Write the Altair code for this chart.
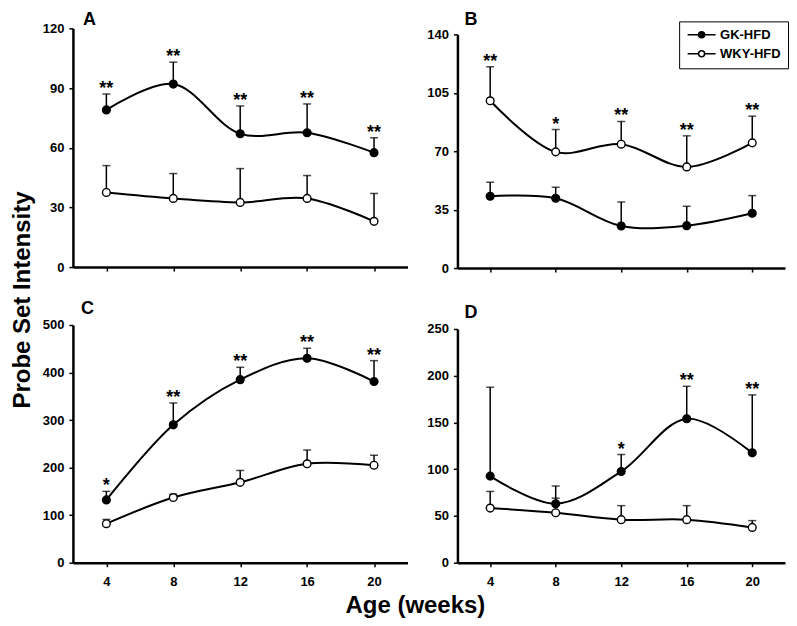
import altair as alt
import pandas as pd

FONT = "Liberation Sans"

weeks = [4, 8, 12, 16, 20]
series = ["GK-HFD", "WKY-HFD"]

# Panel A
a_gk = [79, 92, 67, 67.5, 57.5]
a_gk_err = [87, 103, 81, 82, 65]
a_wky = [37.5, 34.5, 32.5, 34.5, 23]
a_wky_err = [51, 47, 49.5, 46, 37]
a_stars = ["**", "**", "**", "**", "**"]

# Panel B
b_gk = [43, 41.8, 25.2, 25.4, 32.8]
b_gk_err = [51.4, 48.4, 39.6, 37, 43.4]
b_wky = [100.2, 69.6, 74.2, 60.6, 75]
b_wky_err = [120.6, 83, 87.8, 79.2, 91]
b_stars = ["**", "*", "**", "**", "**"]

# Panel C
c_gk = [132, 290, 385, 430, 381]
c_gk_err = [150, 336, 411, 451, 425]
c_wky = [82, 137, 169, 208, 205]
c_wky_err = [91, 144, 194, 237, 226]
c_stars = ["*", "**", "**", "**", "**"]

# Panel D
d_gk = [92.6, 63, 97.6, 154, 117.5]
d_gk_err = [187.7, 82, 115.7, 188.7, 179.5]
d_wky = [58.4, 53.4, 46, 46, 37.7]
d_wky_err = [76.2, 69, 61, 61, 45]
d_stars = ["", "", "*", "**", "**"]

LEGEND_PATH = ("M-2.8,0L-0.6,0M0.6,0L2.8,0"
               "M-0.6,0A0.6,0.6,0,1,1,0.6,0A0.6,0.6,0,1,1,-0.6,0Z")


def panel(letter, gk, gk_err, wky, wky_err, stars, star_on, ymax, ystep,
          width, height, yrange_top, top_pad, letter_dx, letter_dy,
          show_labels, legend):
    rows = []
    for i, w in enumerate(weeks):
        rows.append(dict(week=w, series=series[0], mean=gk[i], upper=gk_err[i]))
        rows.append(dict(week=w, series=series[1], mean=wky[i], upper=wky_err[i]))
    df = pd.DataFrame(rows)
    src = gk_err if star_on == "GK" else wky_err
    sdf = pd.DataFrame(dict(week=weeks, upper=src, star=stars))

    xaxis = alt.Axis(values=weeks, labels=show_labels, title=None,
                     labelPadding=9, tickSize=4)
    yaxis = alt.Axis(values=list(range(0, ymax + 1, ystep)), title=None,
                     labelPadding=5, tickSize=4)
    xs = alt.Scale(domain=[2, 22], nice=False, zero=False)
    ys = alt.Scale(domain=[0, ymax], nice=False, range=[height, yrange_top])

    def X():
        return alt.X("week:Q", scale=xs, axis=xaxis)

    def Y(f):
        return alt.Y(f + ":Q", scale=ys, axis=yaxis)

    base = alt.Chart(df)
    err = base.mark_rule(color="black", strokeWidth=1.5).encode(
        x=X(), y=Y("mean"), y2="upper:Q", detail="series:N")
    cap = base.mark_tick(orient="horizontal", size=8, thickness=1.5,
                         color="black").encode(x=X(), y=Y("upper"),
                                               detail="series:N")
    line = base.mark_line(color="black", strokeWidth=2,
                          interpolate="catmull-rom").encode(
        x=X(), y=Y("mean"), detail="series:N")
    fill_kwargs = dict(scale=alt.Scale(domain=series, range=["black", "white"]))
    if legend:
        leg = alt.Legend(title=None, orient="none", legendX=222, legendY=-7,
                         symbolType=LEGEND_PATH, symbolSize=100,
                         symbolStrokeWidth=1.5, symbolStrokeColor="black",
                         symbolOffset=9, labelOffset=12, labelFont=FONT,
                         labelFontWeight="bold", labelFontSize=13,
                         labelColor="black", strokeColor="black",
                         fillColor="white", padding=7, rowPadding=5)
        fill_enc = alt.Fill("series:N", legend=leg, **fill_kwargs)
    else:
        fill_enc = alt.Fill("series:N", legend=None, **fill_kwargs)
    pts = base.mark_point(filled=True, shape="circle", size=60, stroke="black",
                          strokeWidth=1.4, opacity=1).encode(
        x=X(), y=Y("mean"), fill=fill_enc)
    st = alt.Chart(sdf).mark_text(font=FONT, fontSize=18, fontWeight="bold",
                                  baseline="alphabetic", color="black").encode(
        x=X(), y=Y("upper"), text="star:N")
    ldf = pd.DataFrame({"t": [letter]})
    lab = alt.Chart(ldf).mark_text(font=FONT, fontSize=18, fontWeight="bold",
                                   align="left", baseline="top",
                                   color="black").encode(
        x=alt.value(letter_dx), y=alt.value(letter_dy), text="t:N")
    inv = alt.Chart(ldf).mark_rule(opacity=0).encode(
        x=alt.value(0), x2=alt.value(1), y=alt.value(-top_pad),
        y2=alt.value(-top_pad))
    return alt.layer(err, cap, line, pts, st, lab, inv).properties(
        width=width, height=height)


A = panel("A", a_gk, a_gk_err, a_wky, a_wky_err, a_stars, "GK", 120, 30,
          335, 239, 0, 20, 10, -17, False, False)
B = panel("B", b_gk, b_gk_err, b_wky, b_wky_err, b_stars, "WKY", 140, 35,
          328, 240, 6, 20, 7, -17, False, True)
C = panel("C", c_gk, c_gk_err, c_wky, c_wky_err, c_stars, "GK", 500, 100,
          335, 238, 0, 28, 8, -25, True, False)
D = panel("D", d_gk, d_gk_err, d_wky, d_wky_err, d_stars, "GK", 250, 50,
          328, 238, 4, 28, 7, -21, True, False)

row1 = alt.hconcat(A, B, spacing=19).resolve_scale(fill="independent").resolve_legend(fill="independent")
row2 = alt.hconcat(C, D, spacing=19).resolve_scale(fill="independent").resolve_legend(fill="independent")
inner = alt.vconcat(row1, row2, spacing=22,
                    title=alt.TitleParams("Age (weeks)", orient="bottom",
                                          anchor="middle", font=FONT,
                                          fontSize=24, fontWeight="bold",
                                          color="black", offset=5)
                    ).resolve_scale(fill="independent").resolve_legend(fill="independent")
chart = alt.hconcat(inner,
                    title=alt.TitleParams("Probe Set Intensity", orient="left",
                                          anchor="middle", font=FONT,
                                          fontSize=24, fontWeight="bold",
                                          color="black", offset=7, dx=13)
                    ).resolve_scale(fill="independent").resolve_legend(fill="independent").properties(
    padding={"left": 3, "top": 0, "right": 0, "bottom": 0}, background="white"
).configure_view(stroke=None).configure_axis(
    domainColor="black", domainWidth=2.5, tickColor="black", tickWidth=1.5,
    labelFont=FONT, labelFontWeight="bold", labelFontSize=13,
    labelColor="black", grid=False
)

chart.save("out.html", embed_options={"renderer": "svg", "actions": False})
